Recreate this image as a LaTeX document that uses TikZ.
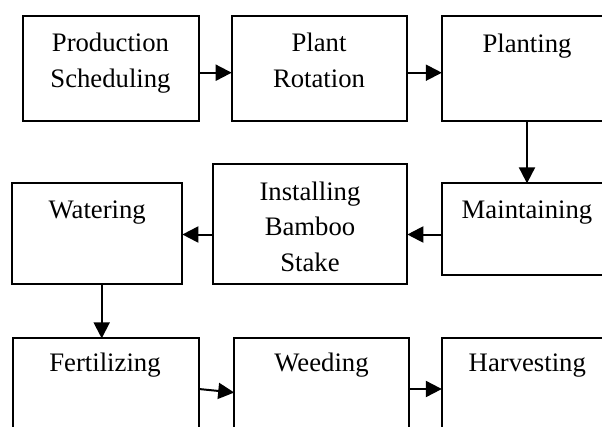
\documentclass[tikz,border=0pt]{standalone}
\usepackage{fontspec}
\setmainfont{Liberation Serif}
\usetikzlibrary{arrows.meta}
\newcommand{\topstrut}{\rule{0pt}{20pt}}
\begin{document}
\begin{tikzpicture}[x=1pt,y=-1pt,
  box/.style={draw, line width=1.8pt, rectangle, inner sep=0pt, outer sep=0pt},
  txt/.style={anchor=north, inner sep=0pt, align=center, font=\fontsize{26.7}{35.6}\selectfont},
  arr/.style={line width=2pt, -{Triangle[length=16pt,width=16pt]}}]
\useasboundingbox (0,0) rectangle (602,426);
\clip (0,0) rectangle (602,426);
% row 1
\node[box, minimum width=176.6pt, minimum height=104.7pt] (b1) at (111,68.3) {};
\node[box, minimum width=175.6pt, minimum height=104.7pt] (b2) at (319.5,68.3) {};
\node[box, minimum width=170.3pt, minimum height=104.7pt] (b3) at (527,68.3) {};
% row 2
\node[box, minimum width=170.3pt, minimum height=101pt] (b4) at (97.2,233.8) {};
\node[box, minimum width=194pt, minimum height=120pt] (b5) at (310.3,224.3) {};
\node[box, minimum width=170.3pt, minimum height=91.7pt] (b6) at (527,229.2) {};
% row 3
\node[box, minimum width=186.1pt, minimum height=121.7pt] (b7) at (105.8,399.2) {};
\node[box, minimum width=174.6pt, minimum height=121.7pt] (b8) at (321.5,399.2) {};
\node[box, minimum width=170.3pt, minimum height=121.7pt] (b9) at (527,399.2) {};
% texts
\node[txt] (t1) at (110.5,31.7) {\topstrut Production\\Scheduling};
\node[txt] (t2) at (319,31.7) {\topstrut Plant\\Rotation};
\node[txt] (t3) at (527,32.5) {\topstrut Planting};
\node[txt] (t4) at (97.2,198.3) {\topstrut Watering};
\node[txt] (t5) at (310,180) {\topstrut Installing\\Bamboo\\Stake};
\node[txt] (t6) at (527,198.3) {\topstrut Maintaining};
\node[txt] (t7) at (105,351.7) {\topstrut Fertilizing};
\node[txt] (t8) at (321.5,351.7) {\topstrut Weeding};
\node[txt] (t9) at (527.3,351.7) {\topstrut Harvesting};
% connectors
\draw[arr] (b1.east |- 0,72.7) -- (b2.west |- 0,72.7);
\draw[arr] (b2.east |- 0,72.7) -- (b3.west |- 0,72.7);
\draw[arr] (b3.south) -- (b6.north);
\draw[arr] (b6.west |- 0,234.5) -- (b5.east |- 0,234.5);
\draw[arr] (b5.west |- 0,234.5) -- (b4.east |- 0,234.5);
\draw[arr] (b4.south -| 101.7,0) -- (b7.north -| 101.7,0);
\draw[arr] (b7.east |- 0,389) -- (b8.west |- 0,392.5);
\draw[arr] (b8.east |- 0,389) -- (b9.west |- 0,389);
\end{tikzpicture}
\end{document}
